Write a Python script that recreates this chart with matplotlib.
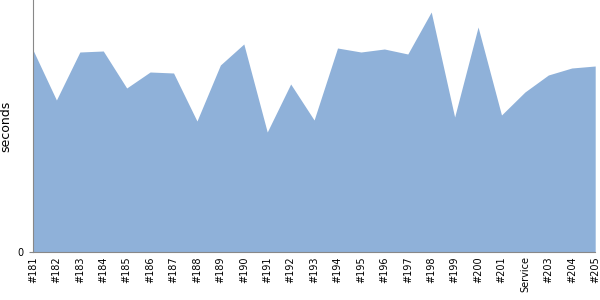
import matplotlib
matplotlib.use('Agg')
import matplotlib.pyplot as plt

# build labels, #202 shows up as "Service"
builds = ['#181', '#182', '#183', '#184', '#185', '#186', '#187', '#188', '#189',
          '#190', '#191', '#192', '#193', '#194', '#195', '#196', '#197', '#198',
          '#199', '#200', '#201', 'Service', '#203', '#204', '#205']
seconds = [202, 152, 200, 201, 164, 180, 179, 131, 187, 208, 120, 168, 132,
           204, 200, 203, 198, 240, 135, 225, 137, 160, 177, 184, 186]

fig = plt.figure(figsize=(6, 3), dpi=100)
ax = fig.add_axes([0.055, 0.16, 0.937, 0.84])

x = range(len(builds))
ax.fill_between(x, seconds, 0, color='#8fb1d9', linewidth=0)

ax.set_xlim(0, len(builds) - 1)
ax.set_ylim(0, 252)
ax.set_xticks(list(x))
ax.set_xticklabels(builds, rotation=90, fontsize=7)
ax.tick_params(axis='x', length=0, pad=3)
ax.set_yticks([0])
ax.tick_params(axis='y', labelsize=7, length=3, color='#888888')
ax.set_ylabel('seconds', fontsize=9)

for s in ['top', 'right']:
    ax.spines[s].set_visible(False)
for s in ['left', 'bottom']:
    ax.spines[s].set_color('#888888')

fig.savefig('out.png', dpi=100)
